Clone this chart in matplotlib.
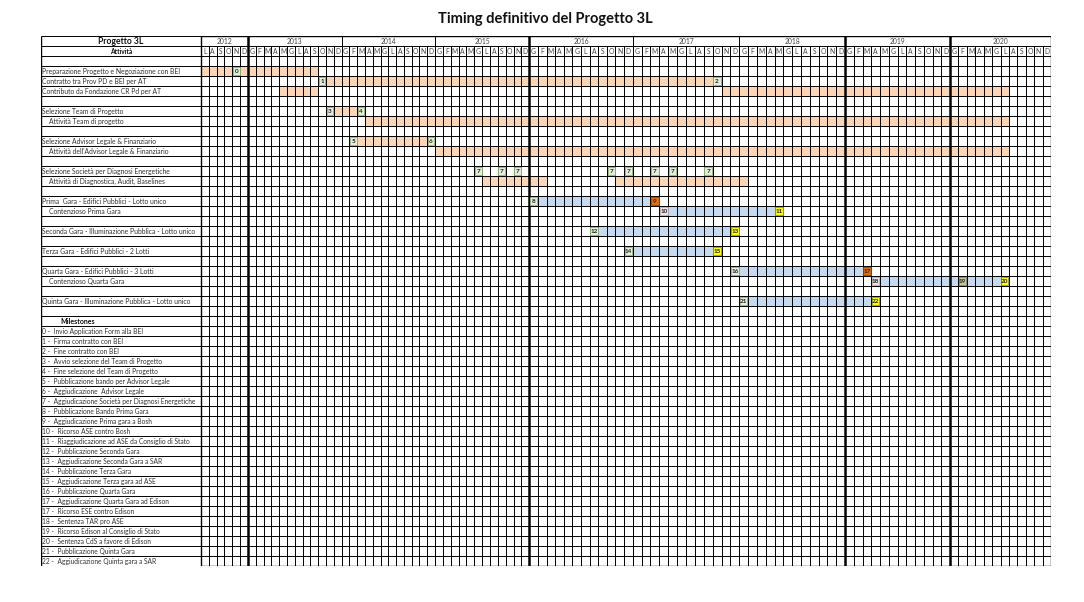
import numpy as np
import matplotlib
matplotlib.use("Agg")
import matplotlib.pyplot as plt
from matplotlib.patches import Rectangle

# ---------------- data ----------------
TITLE = "Timing definitivo del Progetto 3L"
years = [2012, 2013, 2014, 2015, 2016, 2017, 2018, 2019, 2020]
month_letters = ["G", "F", "M", "A", "M", "G", "L", "A", "S", "O", "N", "D"]
first_month = (2012, 7)
last_month = (2020, 12)

activities = [
    "",
    "Preparazione Progetto e Negoziazione con BEI",
    "Contratto tra Prov PD e BEI per AT",
    "Contributo da Fondazione CR Pd per AT",
    "",
    "Selezione Team di Progetto",
    "    Attività Team di progetto",
    "",
    "Selezione Advisor Legale & Finanziario",
    "    Attività dell'Advisor Legale & Finanziario",
    "",
    "Selezione Società per Diagnosi Energetiche",
    "    Attività di Diagnostica, Audit, Baselines",
    "",
    "Prima  Gara - Edifici Pubblici - Lotto unico",
    "    Contenzioso Prima Gara",
    "",
    "Seconda Gara - Illuminazione Pubblica - Lotto unico",
    "",
    "Terza Gara - Edifici Pubblici - 2 Lotti",
    "",
    "Quarta Gara - Edifici Pubblici - 3 Lotti",
    "    Contenzioso Quarta Gara",
    "",
    "Quinta Gara - Illuminazione Pubblica - Lotto unico",
    "",
]
milestones_header = "Milestones"
milestone_labels = [
    "0 -  Invio Application Form alla BEI",
    "1 -  Firma contratto con BEI",
    "2 -  Fine contratto con BEI",
    "3 -  Avvio selezione del Team di Progetto",
    "4 -  Fine selezione del Team di Progetto",
    "5 -  Pubblicazione bando per Advisor Legale",
    "6 -  Aggiudicazione  Advisor Legale",
    "7 -  Aggiudicazione Società per Diagnosi Energetiche",
    "8 -  Pubblicazione Bando Prima Gara",
    "9 -  Aggiudicazione Prima gara a Bosh",
    "10 -  Ricorso ASE contro Bosh",
    "11 -  Riaggiudicazione ad ASE da Consiglio di Stato",
    "12 -  Pubblicazione Seconda Gara",
    "13 -  Aggiudicazione Seconda Gara a SAR",
    "14 -  Pubblicazione Terza Gara",
    "15 -  Aggiudicazione Terza gara ad ASE",
    "16 -  Pubblicazione Quarta Gara",
    "17 -  Aggiudicazione Quarta Gara ad Edison",
    "17 -  Ricorso ESE contro Edison",
    "18 -  Sentenza TAR pro ASE",
    "19 -  Ricorso Edison al Consiglio di Stato",
    "20 -  Sentenza CdS a favore di Edison",
    "21 -  Pubblicazione Quinta Gara",
    "22 -  Aggiudicazione Quinta gara a SAR",
]

# activity bars: (row index in activities, first month, last month)
orange_bars = [
    (1, "2012-07", "2013-09"),
    (2, "2013-11", "2017-09"),
    (3, "2013-05", "2013-09"),
    (3, "2017-11", "2020-07"),
    (5, "2013-12", "2014-02"),
    (6, "2014-04", "2020-07"),
    (8, "2014-03", "2014-11"),
    (9, "2015-01", "2020-07"),
    (12, "2015-07", "2016-02"),
    (12, "2016-11", "2018-01"),
]
blue_bars = [
    (14, "2016-02", "2017-02"),
    (15, "2017-05", "2018-04"),
    (17, "2016-09", "2017-11"),
    (19, "2017-01", "2017-09"),
    (21, "2018-01", "2019-02"),
    (22, "2019-05", "2020-06"),
    (24, "2018-02", "2019-03"),
]
# milestones: (number, row index, month, kind)
milestones = [
    (0, 1, "2012-11", "start"),
    (1, 2, "2013-10", "start"),
    (2, 2, "2017-10", "start"),
    (3, 5, "2013-11", "start"),
    (4, 5, "2014-03", "start"),
    (5, 8, "2014-02", "start"),
    (6, 8, "2014-12", "start"),
    (7, 11, "2015-06", "start"),
    (7, 11, "2015-09", "start"),
    (7, 11, "2015-11", "start"),
    (7, 11, "2016-10", "start"),
    (7, 11, "2016-12", "start"),
    (7, 11, "2017-03", "start"),
    (7, 11, "2017-05", "start"),
    (7, 11, "2017-09", "start"),
    (8, 14, "2016-01", "start"),
    (9, 14, "2017-03", "award"),
    (10, 15, "2017-04", "appeal"),
    (11, 15, "2018-05", "final"),
    (12, 17, "2016-08", "start"),
    (13, 17, "2017-12", "final"),
    (14, 19, "2016-12", "start"),
    (15, 19, "2017-10", "final"),
    (16, 21, "2017-12", "start"),
    (17, 21, "2019-03", "award"),
    (18, 22, "2019-04", "appeal"),
    (19, 22, "2020-02", "council"),
    (20, 22, "2020-07", "final"),
    (21, 24, "2018-01", "start"),
    (22, 24, "2019-04", "final"),
]

# ---------------- style / layout ----------------
ORANGE = "#FCD5B4"
BLUE = "#C5D9F1"
MS_COLORS = {
    "start": ("#E2EFDA", "#8DB36B"),
    "award": ("#E26B0A", "#8A3E00"),
    "appeal": ("#EDE3E6", "#B8A8AC"),
    "final": ("#FFFF00", "#9A9A00"),
    "council": ("#C9C39A", "#8C8660"),
}
FONT = "Lato"
TEXT_C = "#333333"
LW = 0.7
FS = 4.9
FS_MS = 4.75

W, H = 1084, 602
TL, TSPLIT, TR, TT, TB = 41, 201, 1051, 36, 566
# spreadsheet column widths (pixels) for each year block
year_block_px = [47, 93.7, 93.3, 94.3, 103.4, 106.6, 105.7, 105.0, 101.0]


def midx(s):
    y, m = map(int, s.split("-"))
    return (y - first_month[0]) * 12 + (m - first_month[1])


n_months = midx(f"{last_month[0]}-{last_month[1]:02d}") + 1
year_start_months = [0] + [midx(f"{y}-01") for y in years[1:]] + [n_months]
BM = np.array(year_start_months, float)
BP = np.concatenate([[0], np.cumsum(year_block_px)])
BP = BP / BP[-1] * n_months


def fwd(x):
    x = np.asarray(x, float)
    y = np.interp(x, BM, BP)
    y = np.where(x < 0, x * (BP[1] - BP[0]) / (BM[1] - BM[0]), y)
    y = np.where(x > BM[-1], BP[-1] + (x - BM[-1]) * (BP[-1] - BP[-2]) / (BM[-1] - BM[-2]), y)
    return y


def inv(y):
    y = np.asarray(y, float)
    x = np.interp(y, BP, BM)
    x = np.where(y < 0, y * (BM[1] - BM[0]) / (BP[1] - BP[0]), x)
    x = np.where(y > BP[-1], BM[-1] + (y - BP[-1]) * (BM[-1] - BM[-2]) / (BP[-1] - BP[-2]), x)
    return x


n_header = 2
n_rows = n_header + len(activities) + 1 + len(milestone_labels)

fig = plt.figure(figsize=(W / 100, H / 100), dpi=100)
fig.patch.set_facecolor("white")

fig.text(545 / W, 1 - 19 / H, TITLE, ha="center", va="center",
         fontsize=10.5, fontweight="bold", family=FONT, color="#111111")

ax_l = fig.add_axes([TL / W, 1 - TB / H, (TSPLIT - TL) / W, (TB - TT) / H])
ax = fig.add_axes([TSPLIT / W, 1 - TB / H, (TR - TSPLIT) / W, (TB - TT) / H])
ax.set_xscale("function", functions=(fwd, inv))
ax.set_xlim(0, n_months)
ax_l.set_xlim(0, 1)

for a in (ax_l, ax):
    a.set_ylim(n_rows, 0)
    a.xaxis.set_visible(False)
    a.yaxis.set_visible(False)
    for sp in a.spines.values():
        sp.set_visible(False)

# ---- label column ----
ax_l.hlines(np.arange(0, n_rows + 1), 0, 1, color="black", lw=LW)
ax_l.vlines([0, 1], 0, n_rows, color="black", lw=1.0)
ax_l.text(0.5, 0.5, "Progetto 3L", ha="center", va="center", fontsize=6.2,
          fontweight="bold", family=FONT, color="#111111")
ax_l.text(0.5, 1.5, "Attività", ha="center", va="center", fontsize=4.8,
          fontweight="bold", family=FONT, color="#111111")
for i, lab in enumerate(activities):
    if lab:
        ax_l.text(0.008, n_header + i + 0.55, lab, ha="left", va="center",
                  fontsize=FS, family=FONT, color=TEXT_C)
r_ms = n_header + len(activities)
ax_l.text(0.12, r_ms + 0.55, milestones_header, ha="left", va="center",
          fontsize=5.0, fontweight="bold", family=FONT, color="#111111")
for i, lab in enumerate(milestone_labels):
    ax_l.text(0.008, r_ms + 1 + i + 0.55, lab, ha="left", va="center",
              fontsize=FS_MS, family=FONT, color=TEXT_C)

# ---- bars ----
for row, s, e in orange_bars:
    a, b = midx(s), midx(e) + 1
    ax.barh(n_header + row + 0.5, b - a, left=a, height=1, color=ORANGE,
            edgecolor="none", zorder=1)
for row, s, e in blue_bars:
    a, b = midx(s), midx(e) + 1
    ax.barh(n_header + row + 0.5, b - a, left=a, height=1, color=BLUE,
            edgecolor="none", zorder=1)

# ---- grid ----
ax.hlines(np.arange(0, n_rows + 1), 0, n_months, color="black", lw=LW, zorder=2)
ax.vlines(np.arange(1, n_months), 1, n_rows, color="black", lw=LW, zorder=2)
ax.vlines(year_start_months, 0, n_rows, color="black", lw=LW, zorder=2)
thick = [midx("2013-01"), midx("2016-01"), midx("2019-01"), midx("2020-01")]
ax.vlines(thick, 0, n_rows, color="black", lw=1.8, zorder=2)
ax.vlines([0, n_months], 0, n_rows, color="black", lw=1.0, zorder=2)
ax.hlines([0, n_rows], 0, n_months, color="black", lw=1.0, zorder=2)

# header text
for k, y in enumerate(years):
    c = 0.5 * (year_start_months[k] + year_start_months[k + 1])
    ax.text(c, 0.55, str(y), ha="center", va="center", fontsize=FS,
            family=FONT, color="#444444")
for m in range(n_months):
    ax.text(m + 0.5, 1.55, month_letters[(m + first_month[1] - 1) % 12],
            ha="center", va="center", fontsize=FS, family=FONT, color="#444444")

# ---- milestone boxes ----
for num, row, mon, kind in milestones:
    m = midx(mon)
    fc, ec = MS_COLORS[kind]
    ax.add_patch(Rectangle((m + 0.08, n_header + row + 0.1), 0.84, 0.8,
                           facecolor=fc, edgecolor=ec, lw=0.6, zorder=3))
    ax.text(m + 0.5, n_header + row + 0.55, str(num), ha="center", va="center",
            fontsize=4.6, fontweight="bold", family=FONT, color="#222222", zorder=4)

fig.savefig("out.png", dpi=100, facecolor="white")
